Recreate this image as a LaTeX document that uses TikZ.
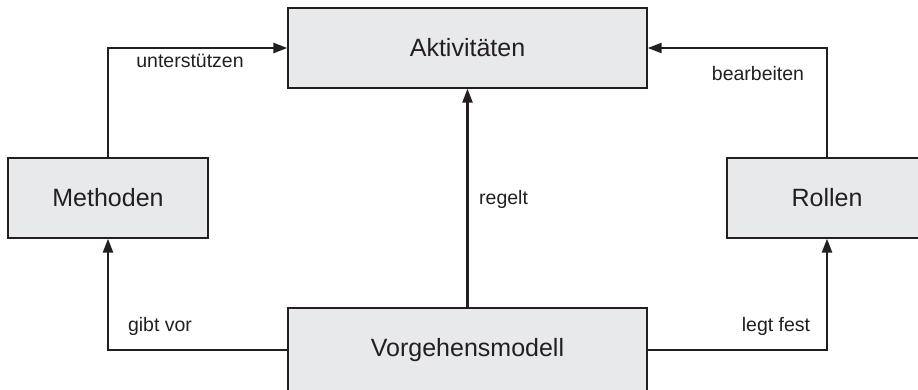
\documentclass[tikz,border=0pt]{standalone}
\usepackage{fontspec}
\setmainfont{Liberation Sans}
\usetikzlibrary{arrows.meta}
\definecolor{boxgray}{RGB}{232,233,235}
\definecolor{inkgray}{RGB}{35,31,32}

\begin{document}
\begin{tikzpicture}[x=1pt,y=-1pt,
    box/.style={draw=inkgray, line width=1.3pt, fill=boxgray, text=inkgray,
      minimum width=#1, minimum height=80pt, inner sep=0pt,
      font=\fontsize{25}{30}\selectfont},
    box/.default=200pt,
    conn/.style={draw=inkgray, line width=2.3pt, -{Triangle[length=14pt,width=10pt]}},
    lbl/.style={text=inkgray, inner sep=0pt, anchor=base, font=\fontsize{19.5}{23}\selectfont}]
            \clip (0,0) rectangle (918,389);
            % boxes
            \node[box=359pt] (akt) at (467.5,48) {Aktivitäten};
            \node[box] (meth) at (108,198) {Methoden};
            \node[box] (roll) at (827,198) {Rollen};
            \node[box=359pt, minimum height=84pt] (vm) at (467.5,350) {Vorgehensmodell};

            % connectors
            \draw[conn] (meth.north) |- (akt.west);
            \draw[conn] (roll.north) |- (akt.east);
            \draw[conn] (vm.north) -- (akt.south);
            \draw[conn] (vm.west) -| (meth.south);
            \draw[conn] (vm.east) -| (roll.south);

            % labels
            \node[lbl] (l-unter) at (190,67) {unterstützen};
            \node[lbl] (l-bearb) at (758,80) {bearbeiten};
            \node[lbl, anchor=base west] (l-regelt) at (479,204) {regelt};
            \node[lbl] (l-gibt) at (160,331) {gibt vor};
            \node[lbl] (l-legt) at (776,331) {legt fest};
        \end{tikzpicture}
\end{document}
